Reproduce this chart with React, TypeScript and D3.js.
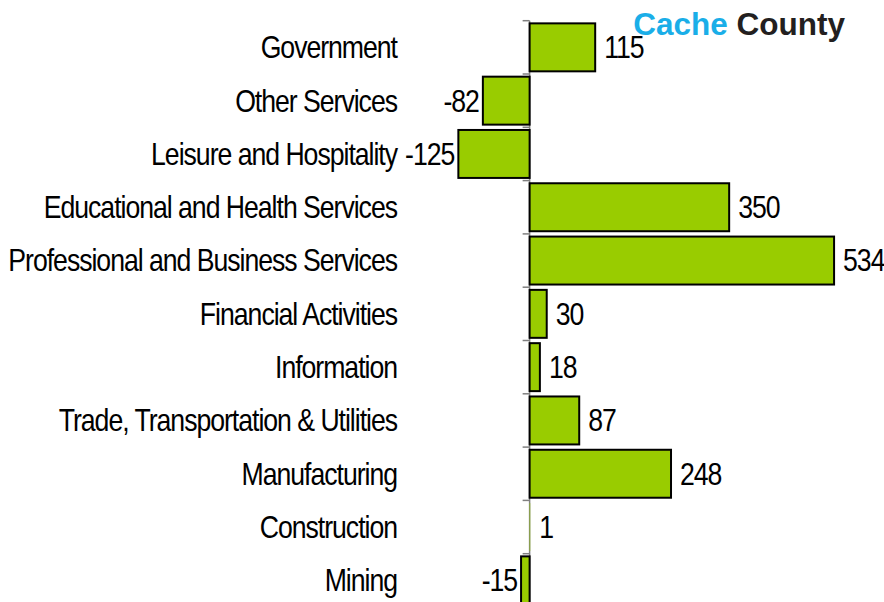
import React, { useRef, useEffect } from "react";
import * as d3 from "d3";

const categories = [
  "Government",
  "Other Services",
  "Leisure and Hospitality",
  "Educational and Health Services",
  "Professional and Business Services",
  "Financial Activities",
  "Information",
  "Trade, Transportation & Utilities",
  "Manufacturing",
  "Construction",
  "Mining",
];
const values = [115, -82, -125, 350, 534, 30, 18, 87, 248, 1, -15];

const titleParts = ["Cache", "County"];

const App = () => {
  const ref = useRef<SVGSVGElement>(null);

  useEffect(() => {
    const svg = d3.select(ref.current);
    svg.selectAll("*").remove();

    const width = 884;
    const height = 602;
    const font = "'Liberation Sans', Arial, sans-serif";
    const squeeze = 0.86; // text in the original is narrowed and tightly set

    const x = d3.scaleLinear().domain([-150, 600]).range([444.1, 871.7]);
    const y = d3
      .scaleBand()
      .domain(categories)
      .range([20.7, 607])
      .paddingInner(0.1)
      .paddingOuter(0.05);

    const step = y.step();
    const data = categories.map((c, i) => ({ cat: c, v: values[i] }));
    const mid = (d) => y(d.cat)! + y.bandwidth() / 2;

    // axis line and ticks between the bands
    svg.append("line")
      .attr("x1", x(0)).attr("x2", x(0))
      .attr("y1", 20.7).attr("y2", height)
      .attr("stroke", "#808080").attr("stroke-width", 1.5);

    svg.selectAll(".tick")
      .data(d3.range(categories.length + 1))
      .enter()
      .append("line")
      .attr("x1", x(0) - 7).attr("x2", x(0))
      .attr("y1", (i) => 20.7 + i * step)
      .attr("y2", (i) => 20.7 + i * step)
      .attr("stroke", "#808080").attr("stroke-width", 1.5);

    svg.selectAll(".bar")
      .data(data)
      .enter()
      .append("rect")
      .attr("x", (d) => x(Math.min(0, d.v)))
      .attr("y", (d) => y(d.cat)!)
      .attr("width", (d) => Math.abs(x(d.v) - x(0)))
      .attr("height", y.bandwidth())
      .attr("fill", "#99cc00")
      .attr("stroke", (d) => (Math.abs(x(d.v) - x(0)) < 1 ? "none" : "#000"))
      .attr("stroke-width", 2);

    // category labels
    svg.selectAll(".cat")
      .data(data)
      .enter()
      .append("text")
      .attr("transform", (d) => `translate(397,${mid(d)}) scale(${squeeze},1)`)
      .attr("dy", "0.35em")
      .attr("text-anchor", "end")
      .attr("font-family", font)
      .attr("font-size", 31)
      .attr("letter-spacing", -1.2)
      .attr("fill", "#000")
      .text((d) => d.cat);

    // value labels
    svg.selectAll(".val")
      .data(data)
      .enter()
      .append("text")
      .attr("transform", (d) =>
        `translate(${d.v >= 0 ? x(d.v) + 9 : x(d.v) - 4},${mid(d)}) scale(${squeeze},1)`)
      .attr("dy", "0.35em")
      .attr("text-anchor", (d) => (d.v >= 0 ? "start" : "end"))
      .attr("font-family", font)
      .attr("font-size", 31)
      .attr("letter-spacing", -1.2)
      .attr("fill", "#000")
      .text((d) => d.v);

    const title = svg.append("text")
      .attr("x", 845)
      .attr("y", 35)
      .attr("text-anchor", "end")
      .attr("font-family", font)
      .attr("font-size", 31.5)
      .attr("font-weight", "bold");
    title.append("tspan").attr("fill", "#1aaee8").text(titleParts[0] + " ");
    title.append("tspan").attr("fill", "#231f20").text(titleParts[1]);

    svg.attr("width", width).attr("height", height);
  }, []);

  return (
    <svg
      ref={ref}
      style={{ position: "absolute", left: 0, top: 0, background: "#fff" }}
    ></svg>
  );
};

export default App;
